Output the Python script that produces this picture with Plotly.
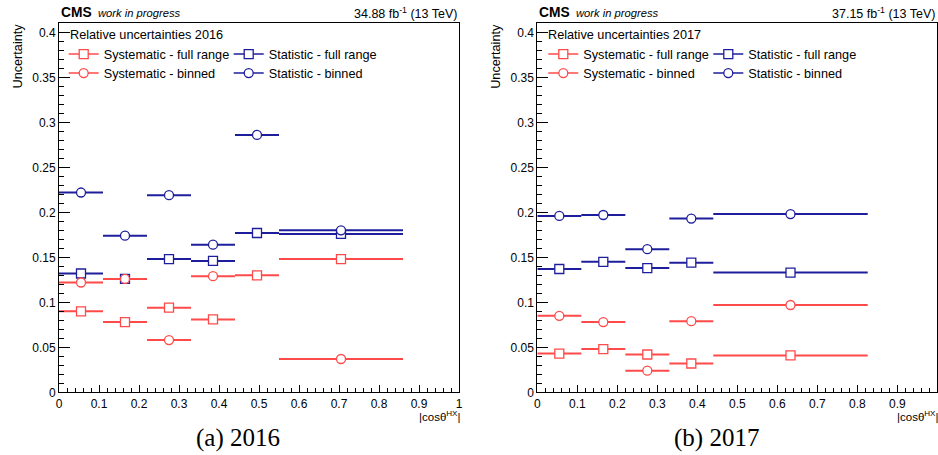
import plotly.graph_objects as go

# ---------------- data ----------------
edges16 = [0.0, 0.11, 0.22, 0.33, 0.44, 0.55, 0.86]
sys_full16 = [0.090, 0.078, 0.094, 0.081, 0.130, 0.148]
sys_binned16 = [0.122, 0.126, 0.058, 0.129, None, 0.037]
stat_full16 = [0.132, 0.126, 0.148, 0.146, 0.177, 0.176]
stat_binned16 = [0.222, 0.174, 0.219, 0.164, 0.286, 0.180]

edges17 = [0.0, 0.11, 0.22, 0.33, 0.44, 0.826]
sys_full17 = [0.043, 0.048, 0.042, 0.032, 0.041]
sys_binned17 = [0.085, 0.078, 0.024, 0.079, 0.097]
stat_full17 = [0.137, 0.145, 0.138, 0.144, 0.133]
stat_binned17 = [0.196, 0.197, 0.159, 0.193, 0.198]

series_names = ["Systematic - full range", "Statistic - full range",
                "Systematic - binned", "Statistic - binned"]
lumi_labels = ["34.88 fb<sup>-1</sup> (13 TeV)", "37.15 fb<sup>-1</sup> (13 TeV)"]
legend_headers = ["Relative uncertainties 2016", "Relative uncertainties 2017"]
captions = ["(a) 2016", "(b) 2017"]

RED = "#ff4a4a"
BLUE = "#1e1e9c"
FONT = "Liberation Sans"
W, H = 938, 455

def px_x(p):
    return p / W

def px_y(p):
    return 1 - p / H

fig = go.Figure()

panels = [
    dict(edges=edges16, sf=sys_full16, sb=sys_binned16, tf=stat_full16, tb=stat_binned16,
         xa="x", ya="y", legs=("legend", "legend2")),
    dict(edges=edges17, sf=sys_full17, sb=sys_binned17, tf=stat_full17, tb=stat_binned17,
         xa="x2", ya="y2", legs=("legend3", "legend4")),
]

for p in panels:
    e = p["edges"]
    centers = [(e[i] + e[i + 1]) / 2 for i in range(len(e) - 1)]
    halfw = [(e[i + 1] - e[i]) / 2 for i in range(len(e) - 1)]
    specs = [
        (p["tf"], BLUE, "square"),
        (p["tb"], BLUE, "circle"),
        (p["sf"], RED, "square"),
        (p["sb"], RED, "circle"),
    ]
    for vals, col, sym in specs:
        xs = [c for c, v in zip(centers, vals) if v is not None]
        ys = [v for v in vals if v is not None]
        es = [h for h, v in zip(halfw, vals) if v is not None]
        fig.add_trace(go.Scatter(
            x=xs, y=ys, mode="markers", xaxis=p["xa"], yaxis=p["ya"],
            marker=dict(symbol=sym, size=9, color="white", line=dict(color=col, width=1.3)),
            error_x=dict(type="data", array=es, symmetric=True, color=col, thickness=2, width=0),
            showlegend=False, hoverinfo="skip"))

# legend-only entries (row 1 = full range, row 2 = binned)
for p in panels:
    for name, col, sym, leg in [
        (series_names[0], RED, "square", p["legs"][0]),
        (series_names[1], BLUE, "square", p["legs"][0]),
        (series_names[2], RED, "circle", p["legs"][1]),
        (series_names[3], BLUE, "circle", p["legs"][1]),
    ]:
        fig.add_trace(go.Scatter(
            x=[None], y=[None], mode="lines+markers", name=name, legend=leg,
            xaxis=p["xa"], yaxis=p["ya"],
            line=dict(color=col, width=1.5),
            marker=dict(symbol=sym, size=9, color="white", line=dict(color=col, width=1.3)),
            showlegend=True))

xdoms = [[px_x(59), px_x(459)], [px_x(537.3), px_x(937.3)]]
ydom = [px_y(392.3), px_y(22.7)]

axis_common = dict(showgrid=False, zeroline=False, showline=True, linecolor="black",
                   linewidth=1, mirror=True, ticks="inside", tickcolor="black",
                   automargin=False,
                   tickfont=dict(family=FONT, size=12, color="black"))

for i, suf in enumerate(["", "2"]):
    fig.layout["xaxis" + suf] = dict(
        domain=xdoms[i], range=[0, 1], anchor="y" + suf, tickmode="linear", tick0=0,
        dtick=0.1, ticklen=7, tickwidth=1,
        minor=dict(ticks="inside", dtick=0.02, ticklen=4, tickcolor="black", tickwidth=1),
        **axis_common)
    fig.layout["yaxis" + suf] = dict(
        domain=ydom, range=[0, 0.4107], anchor="x" + suf, tickmode="linear", tick0=0,
        dtick=0.05, ticklen=11, tickwidth=1,
        minor=dict(ticks="inside", dtick=0.01, ticklen=5, tickcolor="black", tickwidth=1),
        **axis_common)

leg_font = dict(family=FONT, size=12.7, color="black")
leg_common = dict(orientation="h", xanchor="left", yanchor="middle", bgcolor="rgba(0,0,0,0)",
                  borderwidth=0, font=leg_font, entrywidth=120, entrywidthmode="pixels",
                  itemclick=False, itemdoubleclick=False, traceorder="normal")
fig.update_layout(
    legend=dict(x=px_x(63.7), y=px_y(54.3), **leg_common),
    legend2=dict(x=px_x(63.7), y=px_y(73.3), **leg_common),
    legend3=dict(x=px_x(543.3), y=px_y(54.3), **leg_common),
    legend4=dict(x=px_x(543.3), y=px_y(73.3), **leg_common),
)

annotations = []
for i in range(2):
    x0 = 59 if i == 0 else 537.3
    x1 = 459 if i == 0 else 937
    annotations += [
        dict(x=px_x(x0), y=px_y(12.7), text="<b>CMS</b>", xanchor="left", yanchor="middle",
             font=dict(family=FONT, size=13.8, color="black")),
        dict(x=px_x(x0 + 37), y=px_y(13.2), text="<i>work in progress</i>", xanchor="left",
             yanchor="middle", font=dict(family=FONT, size=11.2, color="black")),
        dict(x=px_x(x1), y=px_y(12.7), text=lumi_labels[i], xanchor="right", yanchor="middle",
             font=dict(family=FONT, size=12.5, color="black")),
        dict(x=px_x(x0 + 9), y=px_y(35), text=legend_headers[i], xanchor="left", yanchor="middle",
             font=leg_font),
        dict(x=px_x(x0 - 42), y=px_y(22), text="Uncertainty", textangle=-90, xanchor="center",
             yanchor="top", font=dict(family=FONT, size=12.7, color="black")),
        dict(x=px_x(x1 + 3), y=px_y(416), text="|cosθ<sup>HX</sup>|", xanchor="right",
             yanchor="middle", font=dict(family=FONT, size=11.5, color="black")),
        dict(x=px_x(238 if i == 0 else 716), y=px_y(438), text=captions[i], xanchor="center",
             yanchor="middle", font=dict(family="Liberation Serif", size=25, color="black")),
    ]
for a in annotations:
    a.update(xref="paper", yref="paper", showarrow=False)

fig.update_layout(
    width=W, height=H, margin=dict(l=0, r=0, t=0, b=0, pad=0),
    paper_bgcolor="white", plot_bgcolor="white",
    annotations=annotations, showlegend=True,
)

fig.write_html("out.html")
